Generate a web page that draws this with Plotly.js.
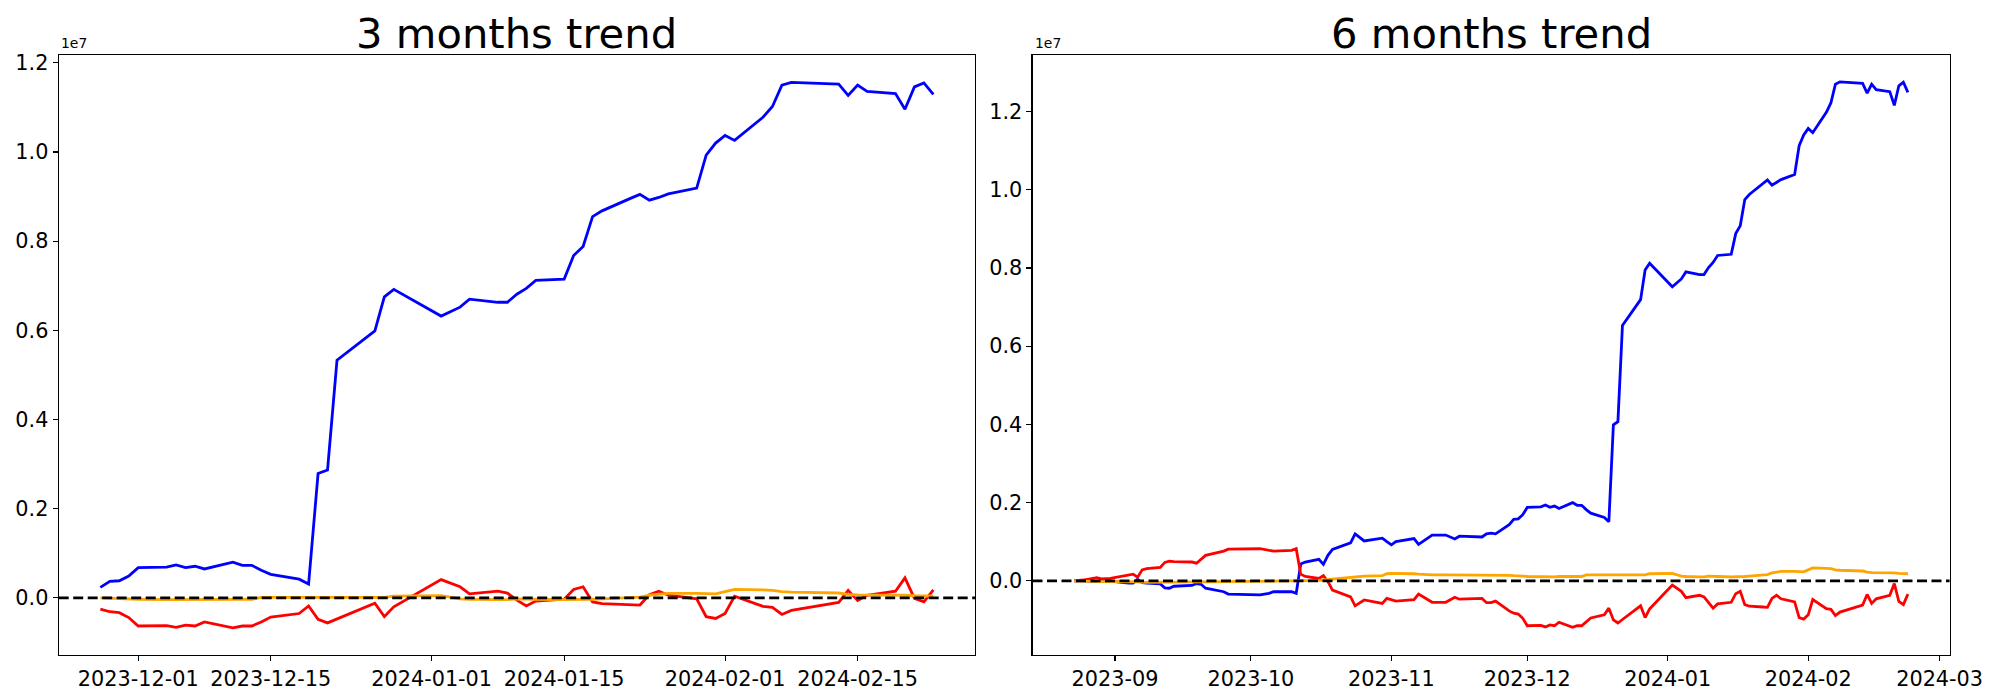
<!DOCTYPE html>
<html>
<head>
<meta charset="utf-8">
<script src="https://cdn.plot.ly/plotly-3.0.1.min.js"></script>
<style>html,body{margin:0;padding:0;background:#fff;}#chart{width:2000px;height:700px;}</style>
</head>
<body>
<div id="chart"></div>
<script>
// ---- 3 months panel (values in units of 1e6) ----
const dates3 = ['2023-11-27','2023-11-28','2023-11-29','2023-11-30','2023-12-01','2023-12-04','2023-12-05','2023-12-06','2023-12-07','2023-12-08','2023-12-11','2023-12-12','2023-12-13','2023-12-14','2023-12-15','2023-12-18','2023-12-19','2023-12-20','2023-12-21','2023-12-22','2023-12-26','2023-12-27','2023-12-28','2024-01-02','2024-01-04','2024-01-05','2024-01-08','2024-01-09','2024-01-10','2024-01-11','2024-01-12','2024-01-15','2024-01-16','2024-01-17','2024-01-18','2024-01-19','2024-01-22','2024-01-23','2024-01-24','2024-01-25','2024-01-26','2024-01-29','2024-01-30','2024-01-31','2024-02-01','2024-02-02','2024-02-05','2024-02-06','2024-02-07','2024-02-08','2024-02-13','2024-02-14','2024-02-15','2024-02-16','2024-02-19','2024-02-20','2024-02-21','2024-02-22','2024-02-23'];
const blue3 = [0.235,0.37,0.385,0.49,0.68,0.69,0.74,0.68,0.71,0.65,0.80,0.73,0.73,0.62,0.53,0.42,0.31,2.79,2.87,5.33,5.99,6.75,6.92,6.32,6.52,6.70,6.63,6.63,6.81,6.94,7.12,7.15,7.68,7.88,8.55,8.68,8.96,9.05,8.92,8.98,9.06,9.19,9.93,10.20,10.37,10.26,10.78,11.02,11.50,11.56,11.52,11.27,11.50,11.36,11.31,10.96,11.46,11.55,11.29];
const red3 = [-0.25,-0.31,-0.33,-0.44,-0.63,-0.62,-0.66,-0.61,-0.63,-0.54,-0.67,-0.63,-0.63,-0.54,-0.43,-0.35,-0.18,-0.48,-0.56,-0.47,-0.12,-0.42,-0.20,0.41,0.25,0.09,0.15,0.11,-0.05,-0.18,-0.07,-0.03,0.19,0.25,-0.09,-0.13,-0.15,-0.16,0.07,0.15,0.06,-0.02,-0.42,-0.46,-0.35,0.04,-0.19,-0.21,-0.37,-0.28,-0.10,0.17,-0.06,0.06,0.15,0.45,-0.01,-0.09,0.18];
const orange3 = [0.00,-0.01,-0.01,-0.02,-0.03,-0.04,-0.04,-0.04,-0.04,-0.03,-0.03,-0.03,-0.03,0.01,0.01,0.01,0.01,0.00,0.00,0.00,0.00,0.01,0.04,0.05,-0.02,-0.03,-0.04,-0.04,-0.02,-0.03,-0.03,-0.04,-0.04,-0.04,-0.03,-0.02,0.00,0.02,0.06,0.08,0.10,0.10,0.09,0.09,0.14,0.19,0.18,0.17,0.14,0.13,0.11,0.08,0.07,0.07,0.07,0.06,0.05,0.04,0.04];

// ---- 6 months panel (values in units of 1e6) ----
const dates6 = ['2023-08-23','2023-08-25','2023-08-28','2023-08-29','2023-08-31','2023-09-01','2023-09-04','2023-09-05','2023-09-06','2023-09-07','2023-09-08','2023-09-11','2023-09-12','2023-09-13','2023-09-14','2023-09-18','2023-09-19','2023-09-20','2023-09-21','2023-09-25','2023-09-26','2023-10-03','2023-10-05','2023-10-06','2023-10-10','2023-10-11','2023-10-12','2023-10-13','2023-10-16','2023-10-17','2023-10-18','2023-10-19','2023-10-23','2023-10-24','2023-10-26','2023-10-30','2023-10-31','2023-11-01','2023-11-02','2023-11-06','2023-11-07','2023-11-10','2023-11-13','2023-11-15','2023-11-16','2023-11-21','2023-11-22','2023-11-23','2023-11-24',
 '2023-11-27','2023-11-28','2023-11-29','2023-11-30','2023-12-01','2023-12-04','2023-12-05','2023-12-06','2023-12-07','2023-12-08','2023-12-11','2023-12-12','2023-12-13','2023-12-14','2023-12-15','2023-12-18','2023-12-19','2023-12-20','2023-12-21','2023-12-22','2023-12-26','2023-12-27','2023-12-28','2024-01-02','2024-01-04','2024-01-05','2024-01-08','2024-01-09','2024-01-10','2024-01-11','2024-01-12','2024-01-15','2024-01-16','2024-01-17','2024-01-18','2024-01-19','2024-01-22','2024-01-23','2024-01-24','2024-01-25','2024-01-26','2024-01-29','2024-01-30','2024-01-31','2024-02-01','2024-02-02','2024-02-05','2024-02-06','2024-02-07','2024-02-08','2024-02-13','2024-02-14','2024-02-15','2024-02-16','2024-02-19','2024-02-20','2024-02-21','2024-02-22','2024-02-23'];
const blue6 = [0.00,0.00,-0.02,-0.02,-0.02,-0.02,-0.06,-0.06,0.04,-0.05,-0.06,-0.08,-0.18,-0.19,-0.14,-0.12,-0.07,-0.09,-0.19,-0.28,-0.34,-0.36,-0.32,-0.28,-0.28,-0.32,0.43,0.48,0.55,0.42,0.65,0.80,0.97,1.20,1.02,1.09,1.00,0.92,1.00,1.08,0.93,1.17,1.17,1.07,1.14,1.12,1.20,1.22,1.20,
 1.435,1.57,1.585,1.69,1.88,1.89,1.94,1.88,1.91,1.85,2.00,1.93,1.93,1.82,1.73,1.62,1.51,3.99,4.07,6.53,7.19,7.95,8.12,7.52,7.72,7.90,7.83,7.83,8.01,8.14,8.32,8.35,8.88,9.08,9.75,9.88,10.16,10.25,10.12,10.18,10.26,10.39,11.13,11.40,11.57,11.46,11.98,12.22,12.70,12.76,12.72,12.47,12.70,12.56,12.51,12.16,12.66,12.75,12.49];
const red6 = [0.00,0.02,0.08,0.05,0.06,0.08,0.14,0.17,0.09,0.28,0.31,0.34,0.47,0.50,0.49,0.48,0.45,0.55,0.65,0.76,0.81,0.82,0.78,0.76,0.78,0.82,0.17,0.11,0.06,0.13,-0.02,-0.24,-0.41,-0.64,-0.49,-0.58,-0.45,-0.49,-0.52,-0.48,-0.34,-0.55,-0.55,-0.42,-0.47,-0.45,-0.56,-0.56,-0.52,
 -0.77,-0.83,-0.85,-0.96,-1.15,-1.14,-1.18,-1.13,-1.15,-1.06,-1.19,-1.15,-1.15,-1.06,-0.95,-0.87,-0.70,-1.00,-1.08,-0.99,-0.64,-0.94,-0.72,-0.11,-0.27,-0.43,-0.37,-0.41,-0.57,-0.70,-0.59,-0.55,-0.33,-0.27,-0.61,-0.65,-0.67,-0.68,-0.45,-0.37,-0.46,-0.54,-0.94,-0.98,-0.87,-0.48,-0.71,-0.73,-0.89,-0.80,-0.62,-0.35,-0.58,-0.46,-0.37,-0.07,-0.53,-0.61,-0.34];
const orange6 = [0.00,-0.01,-0.01,-0.02,-0.02,-0.02,-0.03,-0.03,-0.03,-0.04,-0.04,-0.04,-0.04,-0.04,-0.04,-0.03,-0.03,-0.03,-0.03,-0.02,-0.02,-0.01,-0.01,-0.01,0.00,0.00,0.00,0.01,0.01,0.02,0.03,0.04,0.08,0.10,0.12,0.13,0.18,0.19,0.19,0.18,0.17,0.15,0.15,0.15,0.15,0.15,0.15,0.14,0.14,
 0.14,0.13,0.13,0.12,0.11,0.10,0.10,0.10,0.10,0.11,0.11,0.11,0.11,0.15,0.15,0.15,0.15,0.14,0.14,0.14,0.14,0.15,0.18,0.19,0.12,0.11,0.10,0.10,0.12,0.11,0.11,0.10,0.10,0.10,0.11,0.12,0.14,0.16,0.20,0.22,0.24,0.24,0.23,0.23,0.28,0.33,0.32,0.31,0.28,0.27,0.25,0.22,0.21,0.21,0.21,0.20,0.19,0.18,0.18];

const ticks3 = ['2023-12-01','2023-12-15','2024-01-01','2024-01-15','2024-02-01','2024-02-15'];
const ticks6 = ['2023-09-01','2023-10-01','2023-11-01','2023-12-01','2024-01-01','2024-02-01','2024-03-01'];
const ticks6Text = ['2023-09','2023-10','2023-11','2023-12','2024-01','2024-02','2024-03'];
const yTickVals = [0,2,4,6,8,10,12];
const yTickText = ['0.0','0.2','0.4','0.6','0.8','1.0','1.2'];
const titles = ['3 months trend','6 months trend'];

const LW = 2.8;
function line(x, y, color, xa, ya) {
  return {x: x, y: y, type: 'scatter', mode: 'lines', xaxis: xa, yaxis: ya,
          line: {color: color, width: LW}, hoverinfo: 'skip'};
}
const traces = [
  line(dates3, blue3, 'blue', 'x', 'y'),
  line(dates3, red3, 'red', 'x', 'y'),
  line(dates3, orange3, 'orange', 'x', 'y'),
  line(dates6, blue6, 'blue', 'x2', 'y2'),
  line(dates6, red6, 'red', 'x2', 'y2'),
  line(dates6, orange6, 'orange', 'x2', 'y2')
];

const font = {family: 'DejaVu Sans, sans-serif', color: '#000'};
const axisCommon = {
  showline: true, mirror: true, linecolor: '#000', linewidth: 1.1,
  ticks: 'outside', ticklen: 5, tickwidth: 1.1, tickcolor: '#000',
  showgrid: false, zeroline: false, tickmode: 'array',
  tickfont: {family: font.family, size: 20.8, color: '#000'}
};
const yDom = [1 - 655/700, 1 - 55.4/700];
const layout = {
  width: 2000, height: 700,
  margin: {l: 0, r: 0, t: 0, b: 0},
  paper_bgcolor: '#fff', plot_bgcolor: '#fff',
  showlegend: false, hovermode: false,
  font: font,
  xaxis: Object.assign({}, axisCommon, {
    domain: [58.7/2000, 975/2000], type: 'date',
    range: ['2023-11-22 14:24', '2024-02-27 09:36'],
    tickvals: ticks3, ticktext: ticks3, anchor: 'y'
  }),
  yaxis: Object.assign({}, axisCommon, {
    domain: yDom, range: [-1.28, 12.166],
    tickvals: yTickVals, ticktext: yTickText, anchor: 'x'
  }),
  xaxis2: Object.assign({}, axisCommon, {
    domain: [1032.5/2000, 1949.6/2000], type: 'date',
    range: ['2023-08-13 19:12', '2024-03-03 04:48'],
    tickvals: ticks6, ticktext: ticks6Text, anchor: 'y2'
  }),
  yaxis2: Object.assign({}, axisCommon, {
    domain: yDom, range: [-1.898, 13.437],
    tickvals: yTickVals, ticktext: yTickText, anchor: 'x2'
  }),
  shapes: [
    {type: 'line', xref: 'x domain', yref: 'y', x0: 0, x1: 1, y0: 0, y1: 0,
     line: {color: '#000', width: 2.8, dash: '10px,4.5px'}, layer: 'above'},
    {type: 'line', xref: 'x2 domain', yref: 'y2', x0: 0, x1: 1, y0: 0, y1: 0,
     line: {color: '#000', width: 2.8, dash: '10px,4.5px'}, layer: 'above'}
  ],
  annotations: [
    {text: titles[0], xref: 'paper', yref: 'paper', x: (58.7 + 975) / 2 / 2000, y: 1 - 33/700,
     xanchor: 'center', yanchor: 'middle', showarrow: false, font: {family: font.family, size: 41.7, color: '#000'}},
    {text: titles[1], xref: 'paper', yref: 'paper', x: (1032.5 + 1949.6) / 2 / 2000, y: 1 - 33/700,
     xanchor: 'center', yanchor: 'middle', showarrow: false, font: {family: font.family, size: 41.7, color: '#000'}},
    {text: '1e7', xref: 'paper', yref: 'paper', x: 58.7/2000, y: 1 - 53/700,
     xanchor: 'left', yanchor: 'bottom', showarrow: false, font: {family: font.family, size: 13.9, color: '#000'}},
    {text: '1e7', xref: 'paper', yref: 'paper', x: 1032.5/2000, y: 1 - 53/700,
     xanchor: 'left', yanchor: 'bottom', showarrow: false, font: {family: font.family, size: 13.9, color: '#000'}}
  ]
};

Plotly.newPlot('chart', traces, layout, {displayModeBar: false, staticPlot: true});
</script>
</body>
</html>
